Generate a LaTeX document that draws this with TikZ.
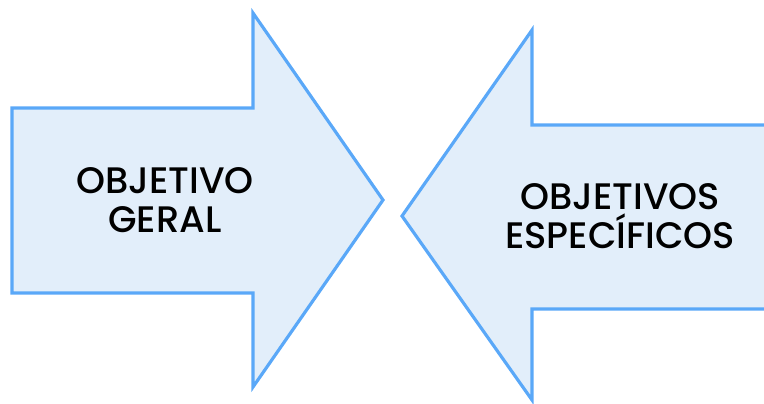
\documentclass[tikz,border=0pt]{standalone}
\usepackage{fontspec}
\setmainfont{Poppins}[BoldFont={Poppins Medium}]
\definecolor{arrowblue}{HTML}{5AA8F8}
\definecolor{arrowfill}{HTML}{E2EEFA}
\usepackage{tikz}

\begin{document}
\begin{tikzpicture}[x=0.02cm, y=-0.02cm,
    arrowshape/.style={draw=arrowblue, fill=arrowfill, line width=1.8pt, line join=miter},
    label/.style={font=\fontsize{21}{22}\selectfont\bfseries, align=center, text=black}]
        \useasboundingbox (0,0) rectangle (764,403);
        \clip (0,0) rectangle (764,403);
        % Left arrow
        \draw[arrowshape] (12,108) -- (253,108) -- (253,13) -- (383,200)
          -- (253,387) -- (253,293) -- (12,293) -- cycle;
        % Right arrow
        \draw[arrowshape] (780,125) -- (532,125) -- (532,30) -- (402,216)
          -- (532,400) -- (532,309) -- (780,309);
        \node[label] (GERAL) at (165,200) {OBJETIVO\\GERAL};
        \node[label] (ESPEC) at (620,216) {OBJETIVOS\\ESPECÍFICOS};
      \end{tikzpicture}
\end{document}
